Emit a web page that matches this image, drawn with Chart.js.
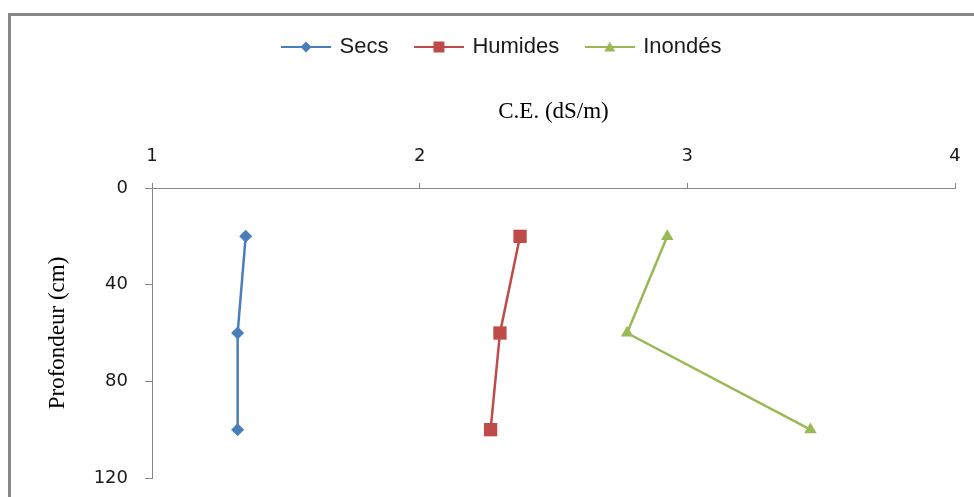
<!DOCTYPE html>
<html>
<head>
<meta charset="utf-8">
<script src="https://cdn.jsdelivr.net/npm/chart.js@4"></script>
<style>
  html, body { margin: 0; padding: 0; background: #fff; overflow: hidden; }
  #frame { position: absolute; left: 8px; top: 13px; width: 1000px; height: 600px;
           border-left: 3px solid #878787; border-top: 3px solid #878787; }
  #c { position: absolute; left: 0; top: 0; }
</style>
</head>
<body>
<div id="frame"></div>
<canvas id="c" width="974" height="497"></canvas>
<script>
// ---- data ----
const depths = [20, 60, 100];                 // Profondeur (cm)
const secs = [1.35, 1.32, 1.32];              // C.E. (dS/m)
const humides = [2.375, 2.30, 2.265];
const inondes = [2.925, 2.775, 3.46];
const seriesNames = ['Secs', 'Humides', 'Inondés'];
const xTicks = [1, 2, 3, 4];
const yTicks = [0, 40, 80, 120];
const xTitle = 'C.E. (dS/m)';
const yTitle = 'Profondeur (cm)';

const colors = ['#4a7ebb', '#be4b48', '#98b954'];
const styles = ['rectRot', 'rect', 'triangle'];
const radii = [6.5, 9.4, 7.2];

function pts(vals) { return vals.map((v, i) => ({ x: v, y: depths[i] })); }

function legendIcon(color, style) {
  const cv = document.createElement('canvas');
  cv.width = 50; cv.height = 16;
  const g = cv.getContext('2d');
  g.strokeStyle = color; g.lineWidth = 2;
  g.beginPath(); g.moveTo(0, 8); g.lineTo(50, 8); g.stroke();
  g.fillStyle = color;
  g.beginPath();
  if (style === 'rectRot') {
    g.moveTo(25, 2.5); g.lineTo(30.5, 8); g.lineTo(25, 13.5); g.lineTo(19.5, 8);
  } else if (style === 'rect') {
    g.rect(19.5, 2.5, 11, 11);
  } else {
    g.moveTo(25, 2.5); g.lineTo(30.5, 12.5); g.lineTo(19.5, 12.5);
  }
  g.closePath(); g.fill();
  return cv;
}

const allSeries = [secs, humides, inondes];
const datasets = allSeries.map((s, i) => ({
  label: seriesNames[i],
  data: pts(s),
  showLine: true,
  borderColor: colors[i],
  backgroundColor: colors[i],
  borderWidth: 2.5,
  pointStyle: styles[i],
  pointRadius: radii[i],
  pointHoverRadius: radii[i],
  pointBorderWidth: 0,
  tension: 0
}));

const icons = colors.map((c, i) => legendIcon(c, styles[i]));
const axisGray = '#868686';

new Chart(document.getElementById('c'), {
  type: 'scatter',
  data: { datasets },
  options: {
    responsive: false,
    animation: false,
    devicePixelRatio: 1,
    layout: { padding: { left: 50, right: 19, top: 8, bottom: 19 } },
    plugins: {
      tooltip: { enabled: false },
      legend: {
        display: true,
        position: 'top',
        labels: {
          usePointStyle: true,
          pointStyleWidth: 45,
          padding: 28,
          color: '#1a1a1a',
          font: { family: 'Liberation Sans, Arial, sans-serif', size: 22 },
          generateLabels: (chart) => chart.data.datasets.map((d, i) => ({
            text: d.label,
            pointStyle: icons[i],
            fillStyle: d.borderColor,
            strokeStyle: d.borderColor,
            lineWidth: 0,
            hidden: false,
            datasetIndex: i,
            fontColor: '#1a1a1a'
          }))
        }
      }
    },
    scales: {
      x: {
        type: 'linear',
        position: 'top',
        min: 1, max: 4,
        afterBuildTicks: (s) => { s.ticks = xTicks.map(v => ({ value: v })); },
        afterFit: (s) => { s.height = 120; s.paddingLeft = 0; s.paddingRight = 0; },
        grid: { drawOnChartArea: false, drawTicks: true, tickLength: 5, color: axisGray, lineWidth: 1 },
        border: { display: true, color: axisGray, width: 1 },
        ticks: {
          padding: 16,
          color: '#1a1a1a',
          font: { family: 'DejaVu Sans, Verdana, sans-serif', size: 18 }
        },
        title: {
          display: true,
          text: xTitle,
          color: '#000',
          padding: { top: 30, bottom: 0 },
          font: { family: 'Liberation Serif, Times New Roman, serif', size: 23 }
        }
      },
      y: {
        type: 'linear',
        position: 'left',
        reverse: true,
        min: 0, max: 120,
        afterBuildTicks: (s) => { s.ticks = yTicks.map(v => ({ value: v })); },
        afterFit: (s) => { s.width = 102; s.paddingTop = 0; s.paddingBottom = 0; },
        grid: { drawOnChartArea: false, drawTicks: true, tickLength: 7, color: axisGray, lineWidth: 1 },
        border: { display: true, color: axisGray, width: 1 },
        ticks: {
          padding: 17,
          color: '#1a1a1a',
          font: { family: 'DejaVu Sans, Verdana, sans-serif', size: 18 }
        },
        title: {
          display: true,
          text: yTitle,
          color: '#000',
          padding: { top: -3.5, bottom: 0 },
          font: { family: 'Liberation Serif, Times New Roman, serif', size: 23, lineHeight: 1 }
        }
      }
    }
  }
});
</script>
</body>
</html>
